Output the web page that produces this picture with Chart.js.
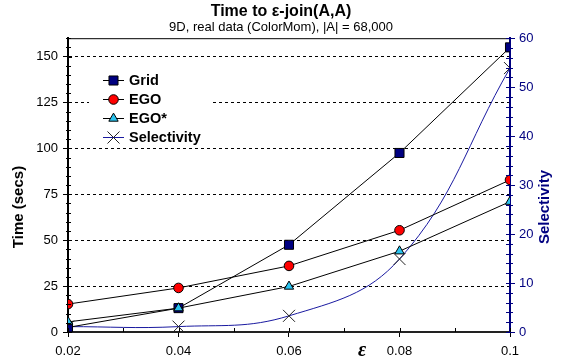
<!DOCTYPE html>
<html>
<head>
<meta charset="utf-8">
<script src="https://cdn.jsdelivr.net/npm/chart.js@4"></script>
<style>
    html, body { margin: 0; padding: 0; background: #fff; }
    #wrap { width: 562px; height: 364px; }
</style>
</head>
<body>
<div id="wrap"><canvas id="joinChart"></canvas></div>
<script>
const epsValues = [0.02, 0.04, 0.06, 0.08, 0.1];
const gridTimes = [2.5, 13, 47.5, 97.5, 155];
const egoTimes = [15.2, 24, 36, 55.4, 82.8];
const egoStarTimes = [5.5, 13, 24.8, 44, 71];
const selectivity = [1.1, 1.1, 3.3, 14.9, 53.9];

const epsTicks = [0.02, 0.04, 0.06, 0.08, 0.1];
const timeTicks = [0, 25, 50, 75, 100, 125, 150];
const selTicks = [0, 10, 20, 30, 40, 50, 60];

const NAVY = "#000080";
const FONT = "Arial, 'Liberation Sans', sans-serif";

function toPoints(values) {
    return epsValues.map((x, i) => ({ x: x, y: values[i] }));
}

// frame, minor ticks, inner halves of major ticks, legend and side titles
const decorPlugin = {
    id: "decor",
    afterDatasetsDraw(chart) {
        const ctx = chart.ctx;
        const area = chart.chartArea;
        const x = chart.scales.x;
        const y = chart.scales.y;
        const y2 = chart.scales.y2;
        ctx.save();

        // top frame
        ctx.strokeStyle = "#000";
        ctx.lineWidth = 1;
        ctx.beginPath();
        ctx.moveTo(area.left, area.top + 0.5);
        ctx.lineTo(area.right, area.top + 0.5);
        ctx.stroke();

        // left axis ticks
        for (let v = 0; v <= 160; v += 5) {
            const py = Math.round(y.getPixelForValue(v)) + 0.5;
            const len = v % 25 === 0 ? 4 : 3;
            ctx.beginPath();
            ctx.moveTo(area.left - (v % 25 === 0 ? 0 : 2), py);
            ctx.lineTo(area.left + len, py);
            ctx.stroke();
        }
        // bottom axis ticks
        for (let i = 0; i <= 8; i++) {
            const v = 0.02 + i * 0.01;
            const px = Math.round(x.getPixelForValue(v)) + 0.5;
            ctx.beginPath();
            ctx.moveTo(px, area.bottom);
            ctx.lineTo(px, area.bottom - 4);
            ctx.stroke();
        }
        // right axis ticks
        ctx.strokeStyle = NAVY;
        for (let v = 0; v <= 60; v += 2) {
            const py = Math.round(y2.getPixelForValue(v)) + 0.5;
            ctx.beginPath();
            ctx.moveTo(area.right - 4, py);
            ctx.lineTo(area.right + (v % 10 === 0 ? 0 : 3), py);
            ctx.stroke();
        }

        // legend
        ctx.fillStyle = "#fff";
        ctx.fillRect(89, 70, 124, 76);
        const rowY = [80, 99, 118, 137];
        chart.data.datasets.forEach((ds, i) => {
            const ly = rowY[i];
            ctx.strokeStyle = ds.borderColor;
            ctx.lineWidth = 1;
            ctx.beginPath();
            ctx.moveTo(103, ly + 0.5);
            ctx.lineTo(124, ly + 0.5);
            ctx.stroke();
            ctx.fillStyle = ds.pointBackgroundColor;
            ctx.strokeStyle = ds.pointBorderColor;
            ctx.lineWidth = 1;
            Chart.helpers.drawPoint(ctx, {
                pointStyle: ds.pointStyle,
                radius: ds.pointRadius,
                rotation: 0,
                borderWidth: 1
            }, 113.5, ly + 0.5);
            ctx.fillStyle = "#000";
            ctx.font = "bold 14.5px " + FONT;
            ctx.textAlign = "left";
            ctx.textBaseline = "middle";
            ctx.fillText(ds.label, 129, ly + 1);
        });

        // axis titles
        ctx.textAlign = "center";
        ctx.textBaseline = "middle";
        ctx.font = "bold 15px " + FONT;
        ctx.fillStyle = "#000";
        ctx.save();
        ctx.translate(19, 207);
        ctx.rotate(-Math.PI / 2);
        ctx.fillText("Time (secs)", 0, 0);
        ctx.restore();

        ctx.fillStyle = NAVY;
        ctx.save();
        ctx.translate(545, 207);
        ctx.rotate(-Math.PI / 2);
        ctx.fillText("Selectivity", 0, 0);
        ctx.restore();

        ctx.fillStyle = "#000";
        ctx.font = "bold italic 20px 'Liberation Serif', 'DejaVu Serif', serif";
        ctx.fillText("\u03b5", 362, 351);

        ctx.restore();
    }
};

function renderJoinChart() {
    const ctx = document.getElementById("joinChart").getContext("2d");

    new Chart(ctx, {
        type: "line",
        data: {
            datasets: [
                {
                    label: "Grid",
                    data: toPoints(gridTimes),
                    yAxisID: "y",
                    borderColor: "#000",
                    borderWidth: 1,
                    pointStyle: "rect",
                    pointRadius: 6.4,
                    pointBackgroundColor: NAVY,
                    pointBorderColor: "#000",
                    pointBorderWidth: 1,
                    order: 3,
                },
                {
                    label: "EGO",
                    data: toPoints(egoTimes),
                    yAxisID: "y",
                    borderColor: "#000",
                    borderWidth: 1,
                    pointStyle: "circle",
                    pointRadius: 4.8,
                    pointBackgroundColor: "#ff0000",
                    pointBorderColor: "#000",
                    pointBorderWidth: 1,
                    order: 2,
                },
                {
                    label: "EGO*",
                    data: toPoints(egoStarTimes),
                    yAxisID: "y",
                    borderColor: "#000",
                    borderWidth: 1,
                    pointStyle: "triangle",
                    pointRadius: 5.4,
                    pointBackgroundColor: "#29c4f0",
                    pointBorderColor: "#000",
                    pointBorderWidth: 1,
                    order: 1,
                },
                {
                    label: "Selectivity",
                    data: toPoints(selectivity),
                    yAxisID: "y2",
                    borderColor: "#1a1aa0",
                    borderWidth: 1,
                    tension: 0.4,
                    pointStyle: "crossRot",
                    pointRadius: 8.5,
                    pointBackgroundColor: "#222",
                    pointBorderColor: "#222",
                    pointBorderWidth: 1,
                    order: 4,
                },
            ],
        },
        options: {
            responsive: true,
            maintainAspectRatio: false,
            animation: false,
            layout: { padding: 0 },
            scales: {
                x: {
                    type: "linear",
                    min: 0.02,
                    max: 0.1,
                    afterBuildTicks: (scale) => {
                        scale.ticks = epsTicks.map((v) => ({ value: v }));
                    },
                    afterFit: (scale) => {
                        scale.height = 32;
                    },
                    ticks: {
                        color: "#000",
                        padding: 7,
                        font: { family: FONT, size: 13 },
                        callback: (value) => String(value),
                    },
                    grid: {
                        drawOnChartArea: false,
                        color: "#000",
                        tickLength: 5,
                    },
                    border: { color: "#222", width: 2 },
                },
                y: {
                    position: "left",
                    min: 0,
                    max: 160,
                    afterBuildTicks: (scale) => {
                        scale.ticks = timeTicks.map((v) => ({ value: v }));
                    },
                    afterFit: (scale) => {
                        scale.width = 68;
                    },
                    ticks: {
                        color: "#000",
                        padding: 5,
                        font: { family: FONT, size: 13 },
                    },
                    grid: {
                        color: (c) => (c.tick && c.tick.value === 0 ? "rgba(0,0,0,0)" : "#000"),
                        tickColor: "#000",
                        tickLength: 5,
                        lineWidth: 1,
                    },
                    border: { color: "#000", width: 2, dash: [3, 3] },
                },
                y2: {
                    position: "right",
                    min: 0,
                    max: 60,
                    afterBuildTicks: (scale) => {
                        scale.ticks = selTicks.map((v) => ({ value: v }));
                    },
                    afterFit: (scale) => {
                        scale.width = 52;
                    },
                    ticks: {
                        color: NAVY,
                        padding: 4,
                        font: { family: FONT, size: 13 },
                    },
                    grid: {
                        drawOnChartArea: false,
                        color: NAVY,
                        tickLength: 5,
                    },
                    border: { color: NAVY, width: 2 },
                },
            },
            plugins: {
                legend: { display: false },
                tooltip: { enabled: false },
                title: {
                    display: true,
                    text: "Time to \u03b5-join(A,A)",
                    color: "#000",
                    font: { family: FONT, size: 16, weight: "bold" },
                    padding: { top: 2, bottom: 0 },
                },
                subtitle: {
                    display: true,
                    text: "9D, real data (ColorMom), |A| = 68,000",
                    color: "#000",
                    font: { family: FONT, size: 13, lineHeight: 1 },
                    padding: { top: 0, bottom: 4 },
                },
            },
        },
        plugins: [decorPlugin],
    });
}

renderJoinChart();
</script>
</body>
</html>
